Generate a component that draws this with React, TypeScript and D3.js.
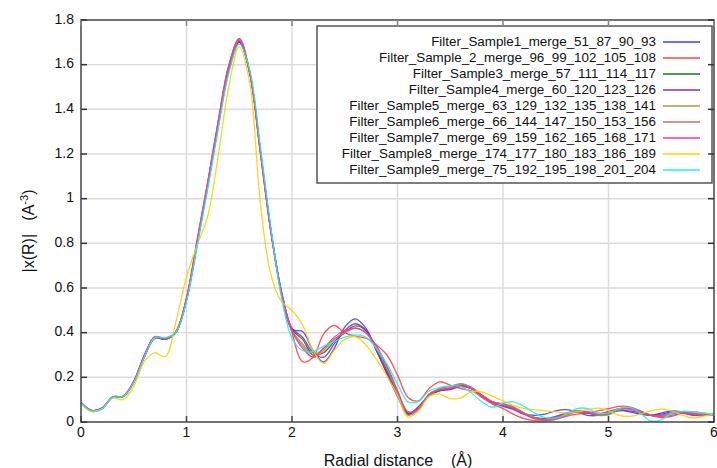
import React from "react";
import * as d3 from "d3";

const rValues: number[] = Array.from({ length: 61 }, (_, i) => +(i * 0.1).toFixed(1));

const xTicks = [0, 1, 2, 3, 4, 5, 6];
const yTicks = [0, 0.2, 0.4, 0.6, 0.8, 1, 1.2, 1.4, 1.6, 1.8];
const yTickLabels = ["0", "0.2", "0.4", "0.6", "0.8", "1", "1.2", "1.4", "1.6", "1.8"];

const seriesNames = [
  "Filter_Sample1_merge_51_87_90_93",
  "Filter_Sample_2_merge_96_99_102_105_108",
  "Filter_Sample3_merge_57_111_114_117",
  "Filter_Sample4_merge_60_120_123_126",
  "Filter_Sample5_merge_63_129_132_135_138_141",
  "Filter_Sample6_merge_66_144_147_150_153_156",
  "Filter_Sample7_merge_69_159_162_165_168_171",
  "Filter_Sample8_merge_174_177_180_183_186_189",
  "Filter_Sample9_merge_75_192_195_198_201_204",
];

const seriesColors = [
  "#3c3cff", "#ff4040", "#207020", "#8030c0", "#a09a4a",
  "#c07070", "#ff3399", "#ffd000", "#20f0f0",
];

const sample1 = [
  0.085, 0.050, 0.060, 0.110, 0.114, 0.176, 0.290, 0.375, 0.370, 0.400, 0.545,
  0.790, 1.050, 1.320, 1.570, 1.700, 1.565, 1.220, 0.860, 0.570, 0.415,
  0.405, 0.320, 0.268, 0.330, 0.425, 0.462, 0.420, 0.320, 0.215, 0.115,
  0.035, 0.070, 0.120, 0.140, 0.145, 0.160, 0.150, 0.115, 0.085, 0.070,
  0.055, 0.035, 0.030, 0.035, 0.050, 0.055, 0.045, 0.030, 0.030, 0.048,
  0.055, 0.045, 0.035, 0.030, 0.040, 0.050, 0.045, 0.035, 0.030, 0.035,
];
const sample2 = [
  0.088, 0.052, 0.062, 0.112, 0.116, 0.182, 0.300, 0.380, 0.372, 0.405, 0.555,
  0.810, 1.070, 1.345, 1.595, 1.718, 1.565, 1.215, 0.855, 0.580, 0.400,
  0.270, 0.290, 0.395, 0.432, 0.400, 0.385, 0.375, 0.345, 0.300, 0.210,
  0.110, 0.095, 0.150, 0.180, 0.165, 0.150, 0.140, 0.110, 0.080, 0.060,
  0.035, 0.015, 0.006, 0.005, 0.012, 0.025, 0.035, 0.040, 0.050, 0.060,
  0.070, 0.068, 0.050, 0.030, 0.020, 0.025, 0.040, 0.045, 0.040, 0.030,
];
const sample3 = [
  0.086, 0.051, 0.061, 0.111, 0.115, 0.179, 0.292, 0.378, 0.371, 0.403, 0.550,
  0.800, 1.060, 1.330, 1.580, 1.705, 1.560, 1.210, 0.855, 0.585, 0.415,
  0.370, 0.300, 0.310, 0.360, 0.400, 0.430, 0.410, 0.330, 0.230, 0.130,
  0.040, 0.060, 0.120, 0.140, 0.150, 0.165, 0.150, 0.120, 0.090, 0.080,
  0.065, 0.040, 0.020, 0.015, 0.020, 0.040, 0.050, 0.045, 0.030, 0.035,
  0.055, 0.060, 0.045, 0.030, 0.030, 0.040, 0.045, 0.035, 0.030, 0.035,
];
const sample4 = [
  0.085, 0.050, 0.061, 0.111, 0.114, 0.178, 0.292, 0.377, 0.370, 0.402, 0.548,
  0.795, 1.055, 1.325, 1.575, 1.705, 1.565, 1.215, 0.860, 0.580, 0.420,
  0.380, 0.310, 0.290, 0.350, 0.410, 0.440, 0.410, 0.320, 0.220, 0.120,
  0.035, 0.060, 0.120, 0.140, 0.150, 0.160, 0.150, 0.120, 0.090, 0.075,
  0.060, 0.035, 0.020, 0.015, 0.025, 0.040, 0.045, 0.040, 0.030, 0.040,
  0.050, 0.050, 0.040, 0.030, 0.035, 0.045, 0.040, 0.030, 0.030, 0.035,
];
const sample5 = [
  0.086, 0.051, 0.062, 0.112, 0.115, 0.180, 0.294, 0.379, 0.372, 0.404, 0.552,
  0.805, 1.065, 1.335, 1.585, 1.710, 1.560, 1.210, 0.850, 0.580, 0.405,
  0.340, 0.290, 0.320, 0.370, 0.400, 0.420, 0.400, 0.330, 0.240, 0.130,
  0.030, 0.055, 0.120, 0.145, 0.155, 0.170, 0.155, 0.120, 0.090, 0.080,
  0.065, 0.040, 0.020, 0.012, 0.018, 0.038, 0.050, 0.045, 0.030, 0.032,
  0.055, 0.062, 0.048, 0.030, 0.028, 0.038, 0.045, 0.038, 0.030, 0.035,
];
const sample6 = [
  0.087, 0.052, 0.062, 0.112, 0.116, 0.181, 0.297, 0.381, 0.373, 0.405, 0.555,
  0.810, 1.070, 1.345, 1.595, 1.715, 1.560, 1.205, 0.850, 0.580, 0.410,
  0.350, 0.300, 0.330, 0.370, 0.400, 0.420, 0.400, 0.340, 0.250, 0.140,
  0.045, 0.060, 0.125, 0.150, 0.160, 0.172, 0.155, 0.120, 0.090, 0.082,
  0.068, 0.040, 0.015, 0.008, 0.012, 0.030, 0.045, 0.045, 0.035, 0.040,
  0.060, 0.064, 0.050, 0.032, 0.028, 0.036, 0.042, 0.036, 0.030, 0.033,
];
const sample7 = [
  0.088, 0.052, 0.063, 0.113, 0.116, 0.182, 0.298, 0.382, 0.374, 0.406, 0.556,
  0.810, 1.068, 1.340, 1.590, 1.712, 1.562, 1.210, 0.852, 0.582, 0.410,
  0.330, 0.290, 0.330, 0.380, 0.410, 0.420, 0.400, 0.340, 0.250, 0.140,
  0.045, 0.060, 0.125, 0.145, 0.150, 0.160, 0.150, 0.118, 0.088, 0.075,
  0.060, 0.035, 0.015, 0.010, 0.018, 0.035, 0.045, 0.045, 0.038, 0.045,
  0.060, 0.058, 0.045, 0.030, 0.025, 0.030, 0.040, 0.040, 0.035, 0.035,
];
const sample8 = [
  0.082, 0.046, 0.058, 0.108, 0.100, 0.160, 0.270, 0.310, 0.292, 0.450, 0.650,
  0.790, 0.920, 1.190, 1.500, 1.680, 1.515, 0.980, 0.660, 0.540, 0.500,
  0.435, 0.320, 0.262, 0.320, 0.370, 0.382, 0.345, 0.280, 0.205, 0.120,
  0.022, 0.050, 0.115, 0.125, 0.105, 0.108, 0.135, 0.135, 0.115, 0.095,
  0.075, 0.060, 0.055, 0.050, 0.045, 0.040, 0.045, 0.055, 0.062, 0.050,
  0.030, 0.025, 0.035, 0.050, 0.058, 0.050, 0.030, 0.018, 0.025, 0.035,
];
const sample9 = [
  0.084, 0.050, 0.060, 0.110, 0.115, 0.176, 0.290, 0.378, 0.378, 0.402, 0.540,
  0.785, 1.040, 1.310, 1.560, 1.692, 1.575, 1.235, 0.870, 0.560, 0.375,
  0.320, 0.315, 0.340, 0.360, 0.380, 0.390, 0.380, 0.330, 0.260, 0.170,
  0.090, 0.092, 0.140, 0.155, 0.162, 0.160, 0.130, 0.090, 0.066, 0.085,
  0.090, 0.070, 0.040, 0.020, 0.018, 0.035, 0.060, 0.060, 0.040, 0.040,
  0.060, 0.065, 0.040, 0.005, 0.010, 0.040, 0.048, 0.045, 0.040, 0.035,
];

const allSeries = [sample1, sample2, sample3, sample4, sample5, sample6, sample7, sample8, sample9];

const W = 717;
const H = 468;
const L = 81;
const R = 714;
const T = 20;
const B = 422;
const FONT = "'Liberation Sans', Arial, Helvetica, sans-serif";

export default function App() {
  const x = d3.scaleLinear().domain([0, 6]).range([L, R]);
  const y = d3.scaleLinear().domain([0, 1.8]).range([B, T]);
  const line = d3
    .line<number>()
    .x((_, i) => x(rValues[i]))
    .y((d) => y(d))
    .curve(d3.curveCatmullRom.alpha(0.5));

  const legX = 317;
  const legY = 26;
  const legW = 395;
  const legH = 157;
  const rowY0 = 42;
  const rowDy = 16;

  return (
    <svg
      width={W}
      height={H}
      style={{ position: "absolute", left: 0, top: 0, background: "#fff" }}
      fontFamily={FONT}
    >
      <defs>
        <clipPath id="plotclip">
          <rect x={L} y={T} width={R - L} height={B - T} />
        </clipPath>
      </defs>
      <rect x={0} y={0} width={W} height={H} fill="#fff" />
      {/* grid */}
      {xTicks.slice(1, -1).map((t) => (
        <line key={"gx" + t} x1={x(t)} x2={x(t)} y1={T} y2={B} stroke="#dcdcdc" strokeWidth={1.5} />
      ))}
      {yTicks.slice(1, -1).map((t) => (
        <line key={"gy" + t} x1={L} x2={R} y1={y(t)} y2={y(t)} stroke="#dcdcdc" strokeWidth={1.5} />
      ))}
      {/* series */}
      <g clipPath="url(#plotclip)">
        {allSeries.map((s, i) => (
          <path
            key={"s" + i}
            d={line(s) || ""}
            fill="none"
            stroke={seriesColors[i]}
            strokeWidth={1.3}
            strokeOpacity={0.9}
          />
        ))}
      </g>
      {/* legend */}
      <rect x={legX} y={legY} width={legW} height={legH} fill="#fff" stroke="#555" strokeWidth={1.5} />
      {seriesNames.map((n, i) => (
        <g key={"lg" + i}>
          <text
            x={656}
            y={rowY0 + i * rowDy}
            textAnchor="end"
            dominantBaseline="middle"
            fontSize={13.4}
            fill="#111"
          >
            {n}
          </text>
          <line
            x1={663}
            x2={700}
            y1={rowY0 + i * rowDy}
            y2={rowY0 + i * rowDy}
            stroke={seriesColors[i]}
            strokeWidth={1.5}
          />
        </g>
      ))}
      {/* frame */}
      <rect x={L} y={T} width={R - L} height={B - T} fill="none" stroke="#444" strokeWidth={1.5} />
      {/* ticks */}
      {xTicks.map((t) => (
        <g key={"tx" + t}>
          <line x1={x(t)} x2={x(t)} y1={B} y2={B - 6} stroke="#444" strokeWidth={1.5} />
          <line x1={x(t)} x2={x(t)} y1={T} y2={T + 6} stroke="#888" strokeWidth={1.5} />
          <text x={x(t)} y={437} textAnchor="middle" fontSize={14} fill="#111">
            {t}
          </text>
        </g>
      ))}
      {yTicks.map((t, i) => (
        <g key={"ty" + t}>
          <line x1={L} x2={L + 6} y1={y(t)} y2={y(t)} stroke="#333" strokeWidth={1.5} />
          <line x1={R} x2={R - 6} y1={y(t)} y2={y(t)} stroke="#333" strokeWidth={1.5} />
          <text x={74} y={y(t)} textAnchor="end" dominantBaseline="middle" fontSize={14} fill="#111">
            {yTickLabels[i]}
          </text>
        </g>
      ))}
      {/* axis titles */}
      <text x={398} y={466} textAnchor="middle" fontSize={16} fill="#111" xmlSpace="preserve">
        {"Radial distance    (Å)"}
      </text>
      <text
        transform={`translate(34,231) rotate(-90)`}
        textAnchor="middle"
        fontSize={16}
        fill="#111"
        xmlSpace="preserve"
      >
        <tspan>{"|x(R)|   (A"}</tspan>
        <tspan fontSize={11} dy={-6}>{"-3"}</tspan>
        <tspan dy={6}>{")"}</tspan>
      </text>
    </svg>
  );
}
